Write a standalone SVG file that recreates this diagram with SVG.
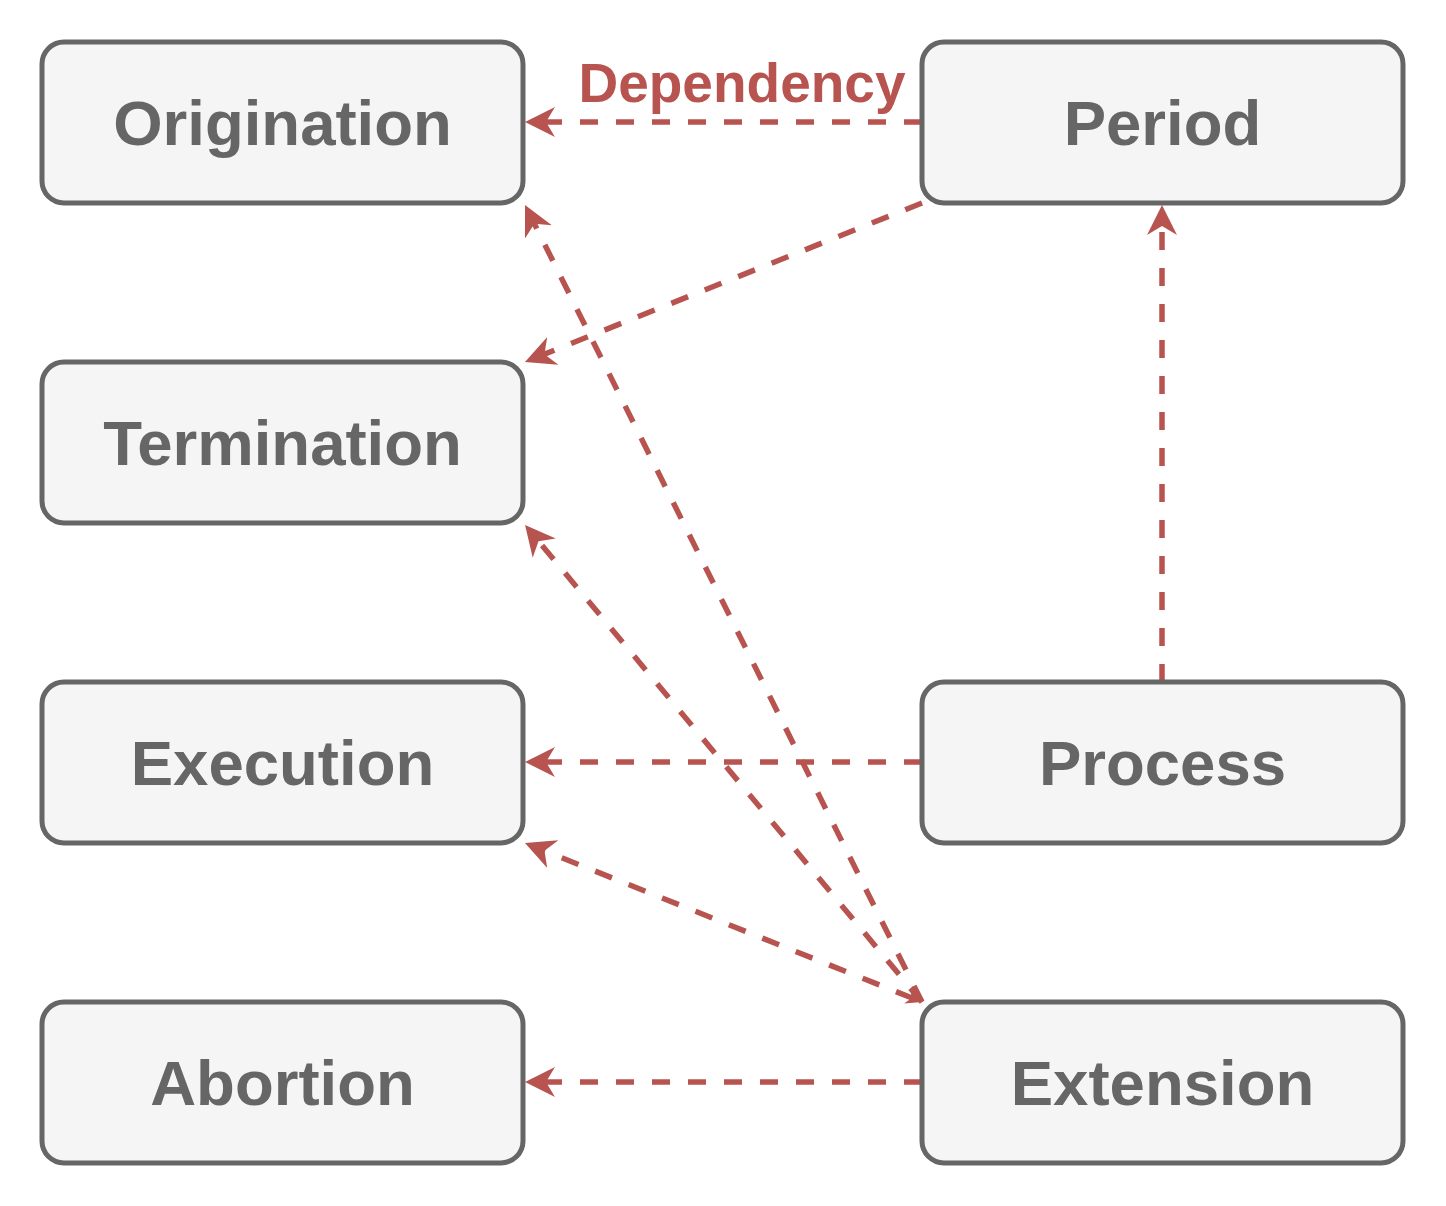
<svg xmlns="http://www.w3.org/2000/svg" width="1446" height="1206" viewBox="0 0 1446 1206">
<style>
.box{fill:#f5f5f5;stroke:#666666;stroke-width:5}
.lbl{font-family:"Liberation Sans",Arial,sans-serif;font-weight:bold;font-size:63.5px;fill:#666666;text-anchor:middle}
.edge{fill:none;stroke:#b85450;stroke-width:5.5;stroke-dasharray:18 18}
.elbl{font-family:"Liberation Sans",Arial,sans-serif;font-weight:bold;font-size:55px;fill:#b85450;text-anchor:middle}
</style>
<defs>
<marker id="arr" markerUnits="userSpaceOnUse" viewBox="0 -17 32 34" markerWidth="32" markerHeight="34" refX="11" refY="0" orient="auto">
<path d="M30,0 L0,-15 L9,0 L0,15 Z" fill="#b85450"/>
</marker>
<marker id="arrs" markerUnits="userSpaceOnUse" viewBox="0 -10 18 20" markerWidth="18" markerHeight="20" refX="6" refY="0" orient="auto-start-reverse">
<path d="M16,0 L0,-8 L5,0 L0,8 Z" fill="#b85450"/>
</marker>
</defs>
<rect width="1446" height="1206" fill="#ffffff"/>
<g id="connectors">
<line class="edge" x1="922" y1="122" x2="544" y2="122" marker-end="url(#arr)"/>
<line class="edge" x1="922" y1="203" x2="542.6" y2="354.9" marker-end="url(#arr)"/>
<line class="edge" x1="1162" y1="682" x2="1162" y2="224" marker-end="url(#arr)"/>
<line class="edge" x1="922" y1="762" x2="544" y2="762" marker-end="url(#arr)"/>
<line class="edge" x1="922" y1="1002" x2="533.5" y2="222" marker-end="url(#arr)"/>
<line class="edge" x1="922" y1="1002" x2="537.2" y2="539.6" marker-end="url(#arr)"/>
<line class="edge" x1="912.7" y1="998.3" x2="542.6" y2="850.1" marker-start="url(#arrs)" marker-end="url(#arr)"/>
<line class="edge" x1="922" y1="1082" x2="544" y2="1082" marker-end="url(#arr)"/>
<text class="elbl" x="742" y="102">Dependency</text>
</g>
<g id="origination"><rect class="box" x="42" y="42" width="481" height="161" rx="22"/><text class="lbl" x="282.5" y="145">Origination</text></g>
<g id="termination"><rect class="box" x="42" y="362" width="481" height="161" rx="22"/><text class="lbl" x="282.5" y="465">Termination</text></g>
<g id="execution"><rect class="box" x="42" y="682" width="481" height="161" rx="22"/><text class="lbl" x="282.5" y="785">Execution</text></g>
<g id="abortion"><rect class="box" x="42" y="1002" width="481" height="161" rx="22"/><text class="lbl" x="282.5" y="1105">Abortion</text></g>
<g id="period"><rect class="box" x="922" y="42" width="481" height="161" rx="22"/><text class="lbl" x="1162.5" y="145">Period</text></g>
<g id="process"><rect class="box" x="922" y="682" width="481" height="161" rx="22"/><text class="lbl" x="1162.5" y="785">Process</text></g>
<g id="extension"><rect class="box" x="922" y="1002" width="481" height="161" rx="22"/><text class="lbl" x="1162.5" y="1105">Extension</text></g>
</svg>
